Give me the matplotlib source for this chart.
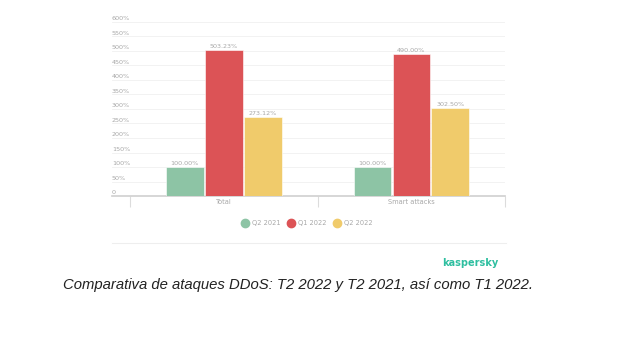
import matplotlib
matplotlib.use('Agg')
from matplotlib import pyplot as plt
from matplotlib.lines import Line2D

categories = ['Total', 'Smart attacks']
series = ['Q2 2021', 'Q1 2022', 'Q2 2022']
values = {
    'Q2 2021': [100.00, 100.00],
    'Q1 2022': [503.23, 490.00],
    'Q2 2022': [273.12, 302.50],
}
colors = ['#8dc4a5', '#dc5356', '#f0cb6b']
yticks = [0, 50, 100, 150, 200, 250, 300, 350, 400, 450, 500, 550, 600]

W, H = 623, 345
fig = plt.figure(figsize=(W / 100, H / 100), dpi=100)
fig.patch.set_facecolor('white')

# axes placed in pixel coordinates of the reference
ax = fig.add_axes([112 / W, (H - 196) / H, (505 - 112) / W, (196 - 22) / H])
ax.set_xlim(-0.596, 1.5)
ax.set_ylim(0, 600)

grey = '#a8a8a8'
bw = 0.2
for k, name in enumerate(series):
    xs = [i + (k - 1) * 0.208 for i in range(len(categories))]
    ax.bar(xs, values[name], width=bw, color=colors[k], edgecolor='white',
           linewidth=0.4, zorder=3)
    for x, v in zip(xs, values[name]):
        ax.text(x, v + 4, f'{v:.2f}%', ha='center', va='bottom',
                fontsize=4.6, color=grey, zorder=4)

# gridlines and y labels
for t in yticks:
    if t > 0:
        ax.axhline(t, color='#f0f0f0', linewidth=0.6, zorder=1)
    lab = '0' if t == 0 else f'{t}%'
    ax.text(0.0, t + 3, lab, transform=ax.get_yaxis_transform(),
            ha='left', va='bottom', fontsize=4.6, color=grey)
ax.set_yticks([])

for s in ['top', 'right', 'left']:
    ax.spines[s].set_visible(False)
ax.spines['bottom'].set_color('#cfcfcf')
ax.spines['bottom'].set_linewidth(1.2)

ax.set_xticks(range(len(categories)))
ax.set_xticklabels(categories, fontsize=4.8, color=grey)
ax.tick_params(axis='x', which='major', length=0, pad=2.5)
ax.set_xticks([-0.5, 0.5, 1.5], minor=True)
ax.tick_params(axis='x', which='minor', length=8, width=0.8, color='#dcdcdc',
               direction='out')

# legend
handles = [Line2D([], [], marker='o', linestyle='none', markersize=6,
                  markerfacecolor=c, markeredgecolor=c) for c in colors]
fig.legend(handles, series, loc='center', bbox_to_anchor=(307 / W, 1 - 223 / H),
           ncol=3, frameon=False, fontsize=4.8, labelcolor=grey,
           handletextpad=0.6, columnspacing=1.0, handlelength=1.0)

# separator line below the legend
fig.add_artist(Line2D([112 / W, 506 / W], [1 - 243 / H, 1 - 243 / H],
                      color='#eeeeee', linewidth=0.8))

fig.text(470 / W, 1 - 263 / H, 'kaspersky', ha='center', va='center',
         fontsize=7, fontweight='bold', color='#2ebfa0', family='DejaVu Sans')

fig.text(63 / W, 1 - 285 / H,
         'Comparativa de ataques DDoS: T2 2022 y T2 2021, así como T1 2022.',
         ha='left', va='center', fontsize=10.75, style='italic', color='#222222',
         family='Liberation Sans')

fig.savefig('out.png', dpi=100, facecolor='white')
